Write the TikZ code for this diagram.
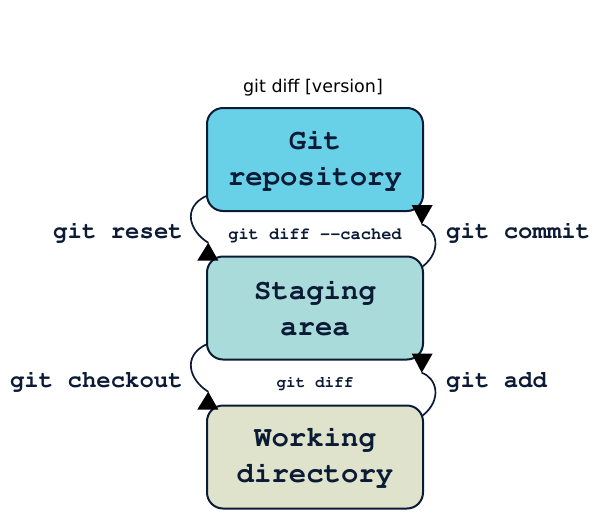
\documentclass[tikz,border=0pt]{standalone}
\usepackage[T1]{fontenc}
\usepackage{fontspec}
\newfontfamily\titlefont{DejaVu Sans}
\newcommand\courb{\fontencoding{T1}\fontfamily{pcr}\fontseries{b}\fontshape{n}\selectfont}
\usetikzlibrary{calc}
\definecolor{navy}{HTML}{0B1A35}
\definecolor{repocol}{HTML}{68D1E8}
\definecolor{stagecol}{HTML}{A8DBD9}
\definecolor{workcol}{HTML}{DFE3CB}
\begin{document}
\begin{tikzpicture}[x=1pt,y=-1pt,
  statebox/.style={draw=navy, line width=2pt, rounded corners=16pt,
    minimum width=216pt, minimum height=103pt, inner sep=0pt, align=center,
    text=navy, font=\courb\fontsize{29}{36}\selectfont},
  cmdlabel/.style={text=navy, inner sep=0pt, font=\courb\fontsize{24}{28}\selectfont},
  difflabel/.style={text=navy, inner sep=0pt, font=\courb\fontsize{17}{20}\selectfont},
  flow/.style={draw=navy, line width=1.7pt},
  tiphead/.style={fill=black, draw=none}]
\useasboundingbox (0,0) rectangle (600,517);
\node[font=\titlefont\fontsize{17.5}{20}\selectfont, inner sep=0pt] (title) at (313,88) {git diff [version]};
\node[statebox, fill=repocol] (repo) at (315,159.5) {Git\\repository};
\node[statebox, fill=stagecol] (stage) at (315,308) {Staging\\area};
\node[statebox, fill=workcol] (work) at (315,457) {Working\\directory};
% git reset: repo -> stage (left)
\coordinate (r1) at ($(repo.south west)+(0,-16)$);
\coordinate (a1) at ($(stage.north west)+(2.3,-12.7)$);
\draw[flow] (r1) .. controls +(-24,12) and +(-19,-12) .. (a1);
\fill[tiphead] (a1) -- ($(stage.north west)+(-8.7,5)$) -- ($(stage.north west)+(12.3,5)$) -- cycle;
% git commit: stage -> repo (right)
\coordinate (s2) at ($(stage.north east)+(-1.3,11)$);
\coordinate (a2) at ($(repo.south east)+(-2.3,12.3)$);
\draw[flow] (s2) .. controls +(20,-16) and +(15,5) .. (a2);
\fill[tiphead] (a2) -- ($(repo.south east)+(-12.3,-7)$) -- ($(repo.south east)+(8.7,-7)$) -- cycle;
% git checkout: stage -> work (left)
\coordinate (s3) at ($(stage.south west)+(0,-16)$);
\coordinate (a3) at ($(work.north west)+(2.3,-12.7)$);
\draw[flow] (s3) .. controls +(-24,12) and +(-19,-12) .. (a3);
\fill[tiphead] (a3) -- ($(work.north west)+(-8.7,5)$) -- ($(work.north west)+(12.3,5)$) -- cycle;
% git add: work -> stage (right)
\coordinate (w2) at ($(work.north east)+(-1.3,11)$);
\coordinate (a4) at ($(stage.south east)+(-2.3,12.3)$);
\draw[flow] (w2) .. controls +(20,-16) and +(15,5) .. (a4);
\fill[tiphead] (a4) -- ($(stage.south east)+(-12.3,-7)$) -- ($(stage.south east)+(8.7,-7)$) -- cycle;
\node[cmdlabel, anchor=east] (lreset) at (183,232) {git reset};
\node[cmdlabel, anchor=west] (lcommit) at (446,232) {git commit};
\node[cmdlabel, anchor=east] (lcheckout) at (183,381) {git checkout};
\node[cmdlabel, anchor=west] (ladd) at (446,381) {git add};
\node[difflabel] (lcached) at (315,235) {git diff -{}-cached};
\node[difflabel, font=\courb\fontsize{16}{20}\selectfont] (ldiff) at (315,383) {git diff};
\end{tikzpicture}
\end{document}
